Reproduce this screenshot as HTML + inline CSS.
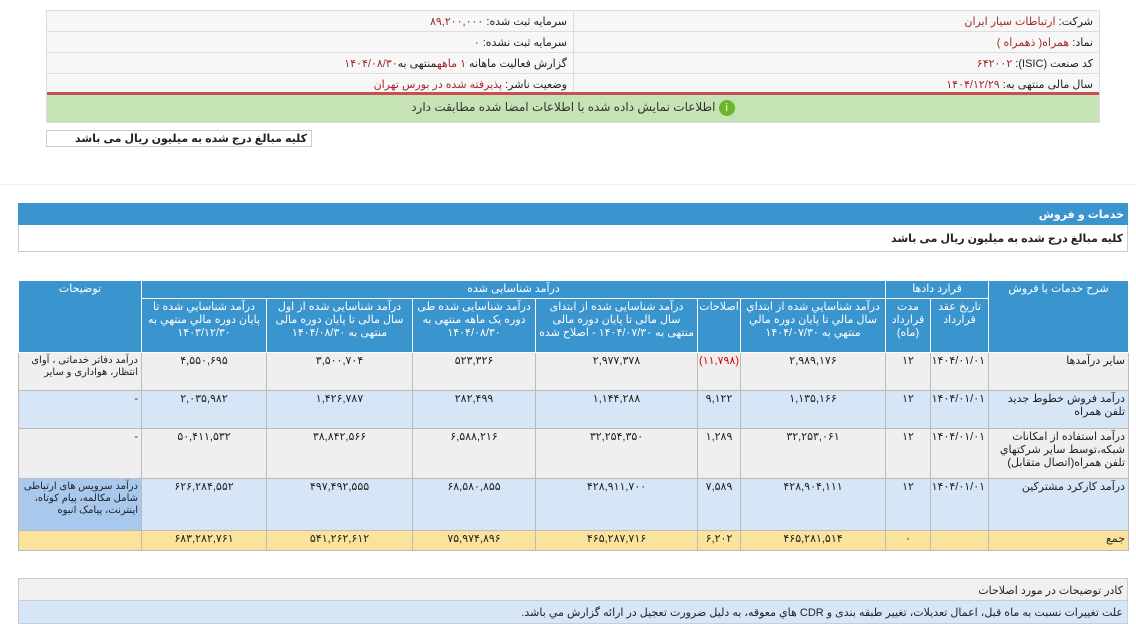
<!DOCTYPE html>
<html><head><meta charset="utf-8"><style>
*{margin:0;padding:0;box-sizing:border-box}
body{width:1136px;height:624px;background:#fff;font-family:"Liberation Sans","DejaVu Sans",sans-serif;font-size:11px;color:#222;position:relative;overflow:hidden;direction:rtl}
.a{position:absolute}
.info{left:46px;top:10px;width:1054px;border:1px solid #ddd;background:#f7f7f7}
.info .r{height:21px;border-bottom:1px solid #ddd;display:flex}
.info .c{width:50%;padding:4px 6px;white-space:nowrap}
.info .c:first-child{border-left:1px solid #ddd}
.red{color:#a52a2a}
table{border-collapse:collapse;table-layout:fixed}
td,th{border:1px solid #bbb;padding:0;vertical-align:top;font-weight:normal;font-size:11px;line-height:13px}
td>div,th>div{overflow:hidden;padding:2px 3px}
th{background:#3a95cf;color:#fff;text-align:center;border-color:#fff}
td{text-align:center}
td.t{text-align:right}
td.n{font-size:10px;line-height:12px}
.g td{background:#efefef}
.b td{background:#d6e6f6}
.y td{background:#fbe39b}
</style></head><body>
<div class="a info">
<div class="r"><div class="c">شرکت: <span class="red">ارتباطات سیار ایران</span></div><div class="c">سرمایه ثبت شده: <span class="red">۸۹,۲۰۰,۰۰۰</span></div></div>
<div class="r"><div class="c">نماد: <span class="red">همراه( ذهمراه )</span></div><div class="c">سرمایه ثبت نشده: <span class="red">۰</span></div></div>
<div class="r"><div class="c">کد صنعت (ISIC): <span class="red">۶۴۲۰۰۲</span></div><div class="c">گزارش فعالیت ماهانه <span class="red">۱ ماهه</span>منتهی به<span class="red">۱۴۰۴/۰۸/۳۰</span></div></div>
<div class="r" style="border-bottom:3px solid #c85050"><div class="c">سال مالی منتهی به: <span class="red">۱۴۰۴/۱۲/۲۹</span></div><div class="c">وضعیت ناشر: <span class="red">پذیرفته شده در بورس تهران</span></div></div>
<div style="height:27px;background:#c6e3b5;text-align:center;padding-top:5px;font-size:12px;color:#333"><span style="display:inline-block;width:16px;height:16px;border-radius:50%;background:#6cb52d;color:#fff;font-size:11px;line-height:16px;vertical-align:middle">i</span> اطلاعات نمایش داده شده با اطلاعات امضا شده مطابقت دارد</div>
</div>
<div class="a" style="left:46px;top:130px;width:266px;height:17px;border:1px solid #ccc;padding:1px 4px;font-weight:bold">کلیه مبالغ درج شده به میلیون ریال می باشد</div>
<div class="a" style="left:0;top:184px;width:1136px;border-top:1px solid #eee"></div>
<div class="a" style="left:18px;top:203px;width:1110px;height:22px;background:#3a95cf;color:#fff;padding:5px 4px;font-weight:bold">خدمات و فروش</div>
<div class="a" style="left:18px;top:225px;width:1110px;height:27px;border:1px solid #ccc;border-top:0;padding:7px 4px;font-weight:bold">کلیه مبالغ درج شده به میلیون ریال می باشد</div>
<table class="a" style="left:18px;top:280px;width:1110px">
<colgroup><col style="width:140px"><col style="width:58px"><col style="width:45px"><col style="width:145px"><col style="width:43px"><col style="width:162px"><col style="width:123px"><col style="width:146px"><col style="width:125px"><col style="width:123px"></colgroup>
<tr><th rowspan="2"><div style="height:71px">شرح خدمات یا فروش</div></th><th colspan="2"><div style="height:17px">قرارد دادها</div></th><th colspan="6"><div style="height:17px">درآمد شناسایی شده</div></th><th rowspan="2"><div style="height:71px">توضیحات</div></th></tr>
<tr><th><div style="height:53px">تاریخ عقد قرارداد</div></th><th><div style="height:53px">مدت قرارداد (ماه)</div></th><th><div style="height:53px">درآمد شناسايي شده از ابتداي سال مالي تا پايان دوره مالي منتهي به ۱۴۰۴/۰۷/۳۰</div></th><th><div style="height:53px;padding:2px 0">اصلاحات</div></th><th><div style="height:53px">درآمد شناسایی شده از ابتدای سال مالی تا پایان دوره مالی منتهی به ۱۴۰۴/۰۷/۳۰ - اصلاح شده</div></th><th><div style="height:53px">درآمد شناسایی شده طی دوره یک ماهه منتهی به ۱۴۰۴/۰۸/۳۰</div></th><th><div style="height:53px">درآمد شناسایی شده از اول سال مالی تا پایان دوره مالی منتهی به ۱۴۰۴/۰۸/۳۰</div></th><th><div style="height:53px">درآمد شناسايي شده تا پايان دوره مالي منتهي به ۱۴۰۳/۱۲/۳۰</div></th></tr>
<tr class="g"><td class="t"><div style="height:37px">سایر درآمدها</div></td><td><div>۱۴۰۴/۰۱/۰۱</div></td><td><div>۱۲</div></td><td><div>۲,۹۸۹,۱۷۶</div></td><td style="color:#d00"><div style="padding:2px 0">(۱۱,۷۹۸)</div></td><td><div>۲,۹۷۷,۳۷۸</div></td><td><div>۵۲۳,۳۲۶</div></td><td><div>۳,۵۰۰,۷۰۴</div></td><td><div>۴,۵۵۰,۶۹۵</div></td><td class="t n"><div style="height:37px">درآمد دفاتر خدماتی ، آوای انتظار، هواداری و سایر</div></td></tr>
<tr class="b"><td class="t"><div style="height:37px">درآمد فروش خطوط جدید تلفن همراه</div></td><td><div>۱۴۰۴/۰۱/۰۱</div></td><td><div>۱۲</div></td><td><div>۱,۱۳۵,۱۶۶</div></td><td><div>۹,۱۲۲</div></td><td><div>۱,۱۴۴,۲۸۸</div></td><td><div>۲۸۲,۴۹۹</div></td><td><div>۱,۴۲۶,۷۸۷</div></td><td><div>۲,۰۳۵,۹۸۲</div></td><td class="t"><div>-</div></td></tr>
<tr class="g"><td class="t"><div style="height:49px">درآمد استفاده از امکانات شبکه،توسط سایر شرکتهاي تلفن همراه(اتصال متقابل)</div></td><td><div>۱۴۰۴/۰۱/۰۱</div></td><td><div>۱۲</div></td><td><div>۳۲,۲۵۳,۰۶۱</div></td><td><div>۱,۲۸۹</div></td><td><div>۳۲,۲۵۴,۳۵۰</div></td><td><div>۶,۵۸۸,۲۱۶</div></td><td><div>۳۸,۸۴۲,۵۶۶</div></td><td><div>۵۰,۴۱۱,۵۳۲</div></td><td class="t"><div>-</div></td></tr>
<tr class="b"><td class="t"><div style="height:51px">درآمد کارکرد مشترکین</div></td><td><div>۱۴۰۴/۰۱/۰۱</div></td><td><div>۱۲</div></td><td><div>۴۲۸,۹۰۴,۱۱۱</div></td><td><div>۷,۵۸۹</div></td><td><div>۴۲۸,۹۱۱,۷۰۰</div></td><td><div>۶۸,۵۸۰,۸۵۵</div></td><td><div>۴۹۷,۴۹۲,۵۵۵</div></td><td><div>۶۲۶,۲۸۴,۵۵۲</div></td><td class="t n" style="background:#a9c8ee"><div style="height:51px">درآمد سرویس های ارتباطی شامل مکالمه، پیام کوتاه، اینترنت، پیامک انبوه</div></td></tr>
<tr class="y"><td class="t"><div style="height:19px">جمع</div></td><td></td><td><div>۰</div></td><td><div>۴۶۵,۲۸۱,۵۱۴</div></td><td><div>۶,۲۰۲</div></td><td><div>۴۶۵,۲۸۷,۷۱۶</div></td><td><div>۷۵,۹۷۴,۸۹۶</div></td><td><div>۵۴۱,۲۶۲,۶۱۲</div></td><td><div>۶۸۳,۲۸۲,۷۶۱</div></td><td></td></tr>
</table>
<div class="a" style="left:18px;top:578px;width:1110px;height:23px;background:#f0f0f0;border:1px solid #ccc;padding:5px 4px">کادر توضیحات در مورد اصلاحات</div>
<div class="a" style="left:18px;top:601px;width:1110px;height:23px;background:#d6e6f6;border:1px solid #ccc;border-top:0;padding:5px 4px">علت تغییرات نسبت به ماه قبل، اعمال تعدیلات، تغییر طبقه بندی و CDR هاي معوقه، به دلیل ضرورت تعجیل در ارائه گزارش مي باشد.</div>
</body></html>
